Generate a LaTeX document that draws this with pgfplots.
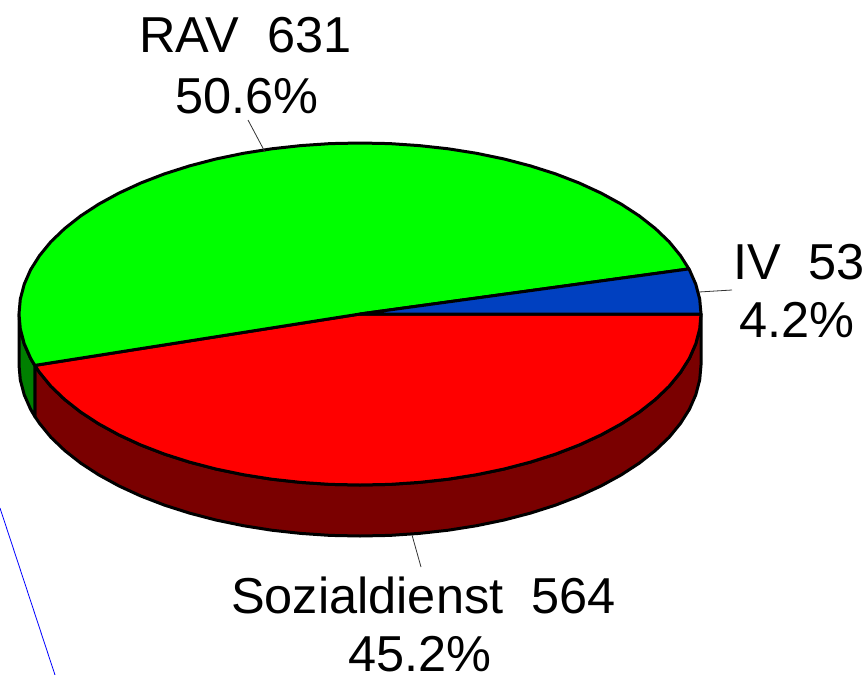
\documentclass[border=0pt]{standalone}
\usepackage{pgfplots}
\pgfplotsset{compat=1.18}
\usepackage{fontspec}
\setmainfont{Liberation Sans}
\definecolor{pieblue}{HTML}{0040C0}
\definecolor{piegreen}{HTML}{00FF00}
\definecolor{piered}{HTML}{FF0000}
\definecolor{darkgreen}{HTML}{007F00}
\definecolor{darkred}{HTML}{7A0000}
\tikzset{
  lbl/.style={font=\fontsize{50.5}{60}\selectfont, anchor=base, inner sep=0pt},
  slice/.style={draw=black, line width=3pt, line join=round},
  leader/.style={draw=black!80, line width=0.8pt},
}
\begin{document}
\begin{tikzpicture}
\path[use as bounding box] (0,0) rectangle (868pt,675pt);
\begin{axis}[
  at={(0,0)}, anchor=south west,
  scale only axis,
  width=868pt, height=675pt,
  xmin=0, xmax=868,
  ymin=0, ymax=675,
  y dir=reverse,
  hide axis,
  clip=true,
]
% side walls
\addplot[slice, fill=darkred] coordinates {
  (34.8,365.4) (39.6,372.5) (50.9,386.3) (64.7,399.5) (80.7,412.1) (98.8,423.9)
  (118.9,434.9) (140.8,445) (164.4,454.1) (189.5,462.1) (215.9,469) (243.4,474.7)
  (271.7,479.2) (300.8,482.4) (330.3,484.4) (360,485) (389.7,484.4) (419.2,482.4)
  (448.3,479.2) (476.6,474.7) (504.1,469) (530.5,462.1) (555.6,454.1) (579.2,445)
  (601.1,434.9) (621.2,423.9) (639.3,412.1) (655.3,399.5) (669.1,386.3) (680.4,372.5)
  (689.4,358.3) (695.8,343.7) (699.7,328.9) (701,314)
  (701,365) (699.7,379.9) (695.8,394.7) (689.4,409.3) (680.4,423.5) (669.1,437.3)
  (655.3,450.5) (639.3,463.1) (621.2,474.9) (601.1,485.9) (579.2,496) (555.6,505.1)
  (530.5,513.1) (504.1,520) (476.6,525.7) (448.3,530.2) (419.2,533.4) (389.7,535.4)
  (360,536) (330.3,535.4) (300.8,533.4) (271.7,530.2) (243.4,525.7) (215.9,520)
  (189.5,513.1) (164.4,505.1) (140.8,496) (118.9,485.9) (98.8,474.9) (80.7,463.1)
  (64.7,450.5) (50.9,437.3) (39.6,423.5) (34.8,416.4)
} -- cycle;
\addplot[slice, fill=darkgreen] coordinates {
  (19,314) (20.3,328.9) (24.2,343.7) (30.6,358.3) (34.8,365.4)
  (34.8,416.4) (30.6,409.3) (24.2,394.7) (20.3,379.9) (19,365)
} -- cycle;
% top faces
\addplot[slice, fill=piered] coordinates {
  (360,314) (34.8,365.4) (39.6,372.5) (50.9,386.3) (64.7,399.5) (80.7,412.1) (98.8,423.9)
  (118.9,434.9) (140.8,445) (164.4,454.1) (189.5,462.1) (215.9,469) (243.4,474.7)
  (271.7,479.2) (300.8,482.4) (330.3,484.4) (360,485) (389.7,484.4) (419.2,482.4)
  (448.3,479.2) (476.6,474.7) (504.1,469) (530.5,462.1) (555.6,454.1) (579.2,445)
  (601.1,434.9) (621.2,423.9) (639.3,412.1) (655.3,399.5) (669.1,386.3) (680.4,372.5)
  (689.4,358.3) (695.8,343.7) (699.7,328.9) (701,314)
} -- cycle;
\addplot[slice, fill=piegreen] coordinates {
  (360,314) (688.9,268.9) (680.4,255.5) (669.1,241.7) (655.3,228.5) (639.3,215.9)
  (621.2,204.1) (601.1,193.1) (579.2,183) (555.6,173.9) (530.5,165.9) (504.1,159)
  (476.6,153.3) (448.3,148.8) (419.2,145.6) (389.7,143.6) (360,143) (330.3,143.6)
  (300.8,145.6) (271.7,148.8) (243.4,153.3) (215.9,159) (189.5,165.9) (164.4,173.9)
  (140.8,183) (118.9,193.1) (98.8,204.1) (80.7,215.9) (64.7,228.5) (50.9,241.7)
  (39.6,255.5) (30.6,269.7) (24.2,284.3) (20.3,299.1) (19,314) (20.3,328.9)
  (24.2,343.7) (30.6,358.3) (34.8,365.4)
} -- cycle;
\addplot[slice, fill=pieblue] coordinates {
  (360,314) (701,314) (699.7,299.1) (695.8,284.3) (689.4,269.7) (688.9,268.9)
} -- cycle;
% leader lines
\addplot[leader] coordinates {(248,120) (265,152)};
\addplot[leader] coordinates {(699,292) (732,290)};
\addplot[leader] coordinates {(412,535) (421,567)};
% stray blue line
\addplot[draw=blue, line width=0.8pt] coordinates {(0,508) (55,675)};
% labels
\node[lbl] at (axis cs:245.5,52) {RAV\ \ 631};
\node[lbl] at (axis cs:247,113) {50.6\%};
\node[lbl] at (axis cs:799,279) {IV\ \ 53};
\node[lbl] at (axis cs:797,337) {4.2\%};
\node[lbl] at (axis cs:423.5,613) {Sozialdienst\ \ 564};
\node[lbl] at (axis cs:420,671) {45.2\%};
\end{axis}
\end{tikzpicture}
\end{document}
